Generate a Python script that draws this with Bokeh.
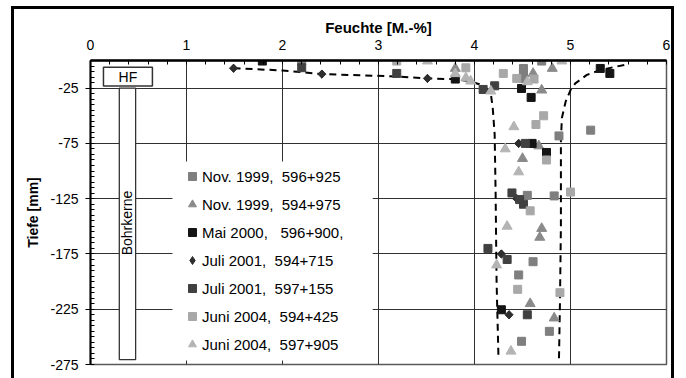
import math
from bokeh.plotting import figure
from bokeh.models import Range1d, FixedTicker, Label, InlineStyleSheet
from bokeh.embed import file_html
from bokeh.resources import INLINE

# ---------------- data ----------------
x_ticks = [0, 1, 2, 3, 4, 5, 6]
x_tick_labels = ["0", "1", "2", "3", "4", "5", "6"]
y_ticks = [-25, -75, -125, -175, -225, -275]
y_tick_labels = ["-25", "-75", "-125", "-175", "-225", "-275"]

labels = [
    "Nov. 1999,  596+925",
    "Nov. 1999,  594+975",
    "Mai 2000,   596+900,",
    "Juli 2001,  594+715",
    "Juli 2001,  597+155",
    "Juni 2004,  594+425",
    "Juni 2004,  597+905",
]

s1_x = [2.20, 4.51, 4.51, 4.51, 4.70, 4.88, 5.21, 4.55, 4.83, 4.61, 4.46, 4.78, 4.49]
s1_y = [-0.5, -7.2, -11.7, -16.2, -0.5, -68.2, -63, -122, -122.5, -182, -194, -245, -254]

s2_x = [3.80, 4.61, 4.81, 4.70, 4.67, 4.50, 4.70, 4.68, 4.58, 4.83]
s2_y = [-7.2, -11.7, -7.2, -26.8, -77.3, -88.7, -152, -160, -220, -233]

s3_x = [1.79, 3.80, 4.49, 4.59, 5.31, 5.41, 4.60, 4.75, 4.28]
s3_y = [-0.5, -16.8, -25.3, -33.4, -7.2, -11.7, -75, -83.2, -225.5]

s4_x = [1.49, 2.41, 3.51, 4.46, 4.44, 4.28, 4.36]
s4_y = [-7, -12.3, -16.2, -75, -125, -175, -230]

s5_x = [2.20, 3.19, 4.09, 4.21, 4.53, 4.39, 4.47, 4.51, 4.14, 4.34, 4.55]
s5_y = [-6.5, -11.7, -26.2, -22.9, -75, -119.8, -125.8, -130, -170, -180, -230]

s6_x = [3.19, 3.91, 4.30, 4.44, 4.62, 4.72, 4.64, 4.75, 4.58, 5.00, 4.45, 4.89]
s6_y = [-0.5, -6.6, -11.7, -16.2, -16.8, -50, -57.9, -90, -136, -119, -207, -210]

s7_x = [3.51, 4.91, 3.80, 3.91, 3.96, 4.17, 4.55, 4.41, 4.32, 4.46, 4.34, 4.23, 4.38]
s7_y = [-0.5, -0.5, -12, -15.7, -18.7, -27.7, -19.3, -60, -80, -100.8, -150, -185, -263]

left_curve_x = [1.49, 2.0, 2.41, 2.8, 3.2, 3.51, 3.8, 3.96, 4.05, 4.12, 4.17, 4.19, 4.21, 4.22, 4.23, 4.25]
left_curve_y = [-7, -9, -12.3, -13.3, -14.5, -16.2, -17, -19, -21.5, -25.5, -30, -43, -67, -120, -200, -270]

right_curve_x = [5.56, 5.45, 5.31, 5.17, 5.05, 5.00, 4.95, 4.91, 4.90, 4.90, 4.89, 4.88]
right_curve_y = [-4, -6, -8.7, -13, -20.7, -26.8, -37, -52, -73, -150, -220, -270]

FONT = "Liberation Sans"

p = figure(width=686, height=378, x_range=Range1d(0, 6), y_range=Range1d(-275, 0),
           output_backend="svg", toolbar_location=None, x_axis_location="above",
           min_border_left=90, min_border_top=60, min_border_right=20, min_border_bottom=14)
p.background_fill_color = "white"
p.border_fill_color = "white"
p.outline_line_color = "#595959"
p.outline_line_width = 1.5

# outer frame around the whole chart (left, top and right edges visible)
p.stylesheets = [InlineStyleSheet(css=(
    ":host { position: relative; }"
    ":host::after { content: ''; position: absolute; left: 11px; top: 6px;"
    " width: 657px; height: 369px; border-left: 3px solid black;"
    " border-top: 3px solid black; border-right: 3px solid black;"
    " box-sizing: content-box; pointer-events: none; z-index: 100; }"
))]

# x axis (top)
xa = p.xaxis[0]
xa.ticker = FixedTicker(ticks=x_ticks, minor_ticks=[i * 0.2 for i in range(31)])
xa.major_label_overrides = {t: l for t, l in zip(x_ticks, x_tick_labels)}
xa.axis_line_color = "black"
xa.axis_line_width = 2.5
xa.major_tick_in = 0
xa.major_tick_out = 0
xa.minor_tick_in = 4
xa.minor_tick_out = 0
xa.minor_tick_line_color = "black"
xa.major_label_text_font = FONT
xa.major_label_text_font_size = "14px"
xa.major_label_text_color = "black"
xa.major_label_standoff = 11
xa.axis_label = "Feuchte [M.-%]"
xa.axis_label_text_font = FONT
xa.axis_label_text_font_style = "bold"
xa.axis_label_text_font_size = "15px"
xa.axis_label_text_color = "black"
xa.axis_label_standoff = 1

# y axis
ya = p.yaxis[0]
ya.ticker = FixedTicker(ticks=y_ticks, minor_ticks=[-5 * i for i in range(56)])
ya.major_label_overrides = {t: l for t, l in zip(y_ticks, y_tick_labels)}
ya.axis_line_color = "black"
ya.axis_line_width = 2
ya.major_tick_in = 0
ya.major_tick_out = 5
ya.major_tick_line_color = "black"
ya.minor_tick_in = 4
ya.minor_tick_out = 0
ya.minor_tick_line_color = "black"
ya.major_label_text_font = FONT
ya.major_label_text_font_size = "14px"
ya.major_label_text_color = "black"
ya.major_label_standoff = 7
ya.axis_label = "Tiefe [mm]"
ya.axis_label_text_font = FONT
ya.axis_label_text_font_style = "bold"
ya.axis_label_text_font_size = "14px"
ya.axis_label_text_color = "black"
ya.axis_label_standoff = 6

p.xgrid.ticker = FixedTicker(ticks=x_ticks[1:-1])
p.ygrid.ticker = FixedTicker(ticks=y_ticks[:-1])
p.xgrid.grid_line_color = "#303030"
p.ygrid.grid_line_color = "#303030"
p.xgrid.grid_line_width = 1
p.ygrid.grid_line_width = 1

# legend background area
p.quad(left=[0.854], right=[2.94], top=[-91.4], bottom=[-271.4],
       fill_color="white", line_color=None)

# HF box and Bohrkerne column
p.quad(left=[0.135], right=[0.645], top=[-6], bottom=[-23],
       fill_color="white", line_color="#333333", line_width=1.5)
p.add_layout(Label(x=0.39, y=-14.5, text="HF", text_font=FONT, text_font_size="14px",
                   text_align="center", text_baseline="middle", text_color="black"))
p.quad(left=[0.30], right=[0.47], top=[-25], bottom=[-270.5],
       fill_color="white", line_color="#333333", line_width=1.3)
p.add_layout(Label(x=0.385, y=-147, text="Bohrkerne", text_font=FONT, text_font_size="14px",
                   text_align="center", text_baseline="middle", angle=math.pi / 2,
                   text_color="black"))

# envelope curves
p.line(left_curve_x, left_curve_y, line_color="black", line_width=2, line_dash="7 5")
p.line(right_curve_x, right_curve_y, line_color="black", line_width=2, line_dash="7 5")

series = [
    (s1_x, s1_y, "square", 8, "#7f7f7f"),
    (s2_x, s2_y, "triangle", 10, "#8a8a8a"),
    (s3_x, s3_y, "square", 8, "#141414"),
    (s4_x, s4_y, "diamond", 8, "#2e2e2e"),
    (s5_x, s5_y, "square", 8, "#404040"),
    (s6_x, s6_y, "square", 8, "#a8a8a8"),
    (s7_x, s7_y, "triangle", 10, "#b4b4b4"),
]
for (xs, ys, m, sz, c), lab in zip(series, labels):
    p.scatter(xs, ys, marker=m, size=sz, fill_color=c, line_color=c, legend_label=lab)
    if m == "diamond":
        # widen the diamond points into rhombi in the plot area
        p.scatter(xs, ys, marker="square", size=5.8, angle=math.pi / 4,
                  fill_color=c, line_color=c)

lg = p.legend[0]
lg.location = (92, 10)
lg.padding = 0
lg.margin = 0
lg.spacing = 8
lg.glyph_width = 20
lg.glyph_height = 20
lg.label_height = 20
lg.label_standoff = 0
lg.label_text_font = FONT
lg.label_text_font_size = "15px"
lg.label_text_color = "black"
lg.background_fill_color = "white"
lg.background_fill_alpha = 1
lg.border_line_color = None

open("out.html", "w").write(file_html(p, INLINE))
